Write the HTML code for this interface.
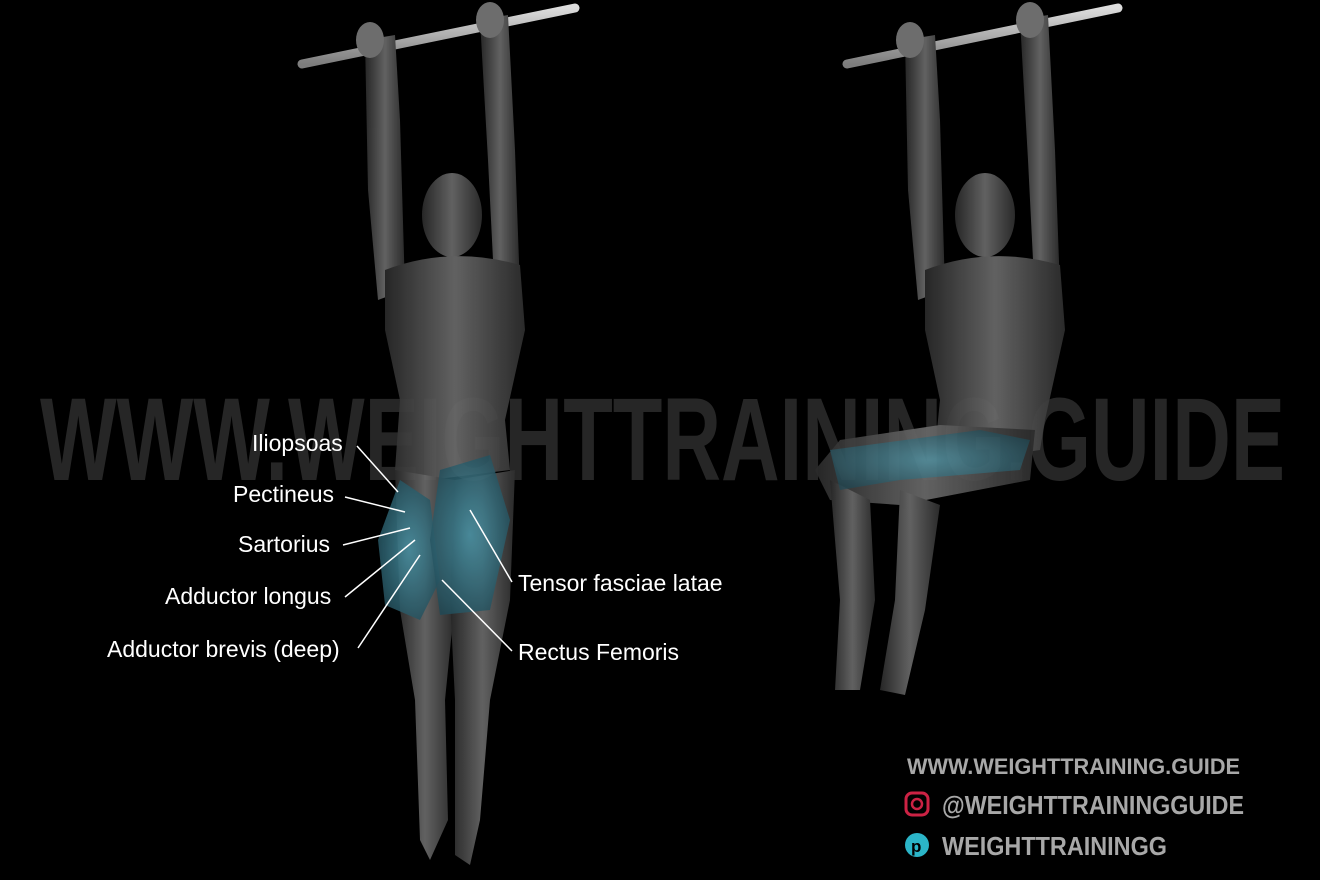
<!DOCTYPE html>
<html><head><meta charset="utf-8"><style>
html,body{margin:0;padding:0;background:#000;}
svg{display:block}
text{font-family:"Liberation Sans",sans-serif}
</style></head><body>
<svg width="1320" height="880" viewBox="0 0 1320 880">
<defs>
<linearGradient id="body" x1="0" x2="1" y1="0" y2="0">
<stop offset="0" stop-color="#2a2a2a"/><stop offset="0.5" stop-color="#6a6a6a"/><stop offset="1" stop-color="#2e2e2e"/>
</linearGradient>
<linearGradient id="bar" x1="0" x2="0" y1="0" y2="1">
<stop offset="0" stop-color="#f0f0f0"/><stop offset="1" stop-color="#888"/>
</linearGradient>
<radialGradient id="musc" cx="0.5" cy="0.5" r="0.6">
<stop offset="0" stop-color="#4fa0b4"/><stop offset="1" stop-color="#234f5c"/>
</radialGradient>
</defs>
<rect width="1320" height="880" fill="#000"/>
<text x="40" y="480" font-size="118" font-weight="bold" fill="#262626" textLength="1245" lengthAdjust="spacingAndGlyphs">WWW.WEIGHTTRAINING.GUIDE</text>

<g opacity="0.92">
<line x1="302" y1="64" x2="575" y2="8" stroke="url(#bar)" stroke-width="9" stroke-linecap="round"/>
<path d="M365,40 L395,35 L400,120 L405,290 L378,300 L368,190 Z" fill="url(#body)"/>
<path d="M480,20 L508,15 L515,150 L520,290 L495,300 L488,160 Z" fill="url(#body)"/>
<ellipse cx="452" cy="215" rx="30" ry="42" fill="url(#body)"/>
<path d="M385,270 Q450,245 520,265 L525,330 L505,420 L510,470 L430,480 L395,470 L400,400 L385,330 Z" fill="url(#body)"/>
<path d="M395,470 L455,480 L455,600 L445,700 L448,820 L430,860 L420,840 L415,700 L400,610 Z" fill="url(#body)"/>
<path d="M455,480 L515,470 L510,600 L490,700 L480,820 L470,865 L455,855 L455,700 L450,600 Z" fill="url(#body)"/>
<path d="M400,480 L430,500 L440,580 L420,620 L385,605 L378,540 Z" fill="url(#musc)" opacity="0.85"/>
<path d="M440,470 L490,455 L510,520 L490,610 L440,615 L430,540 Z" fill="url(#musc)" opacity="0.85"/>
<ellipse cx="370" cy="40" rx="14" ry="18" fill="#777"/>
<ellipse cx="490" cy="20" rx="14" ry="18" fill="#777"/>
</g>

<g opacity="0.92">
<line x1="847" y1="64" x2="1118" y2="8" stroke="url(#bar)" stroke-width="9" stroke-linecap="round"/>
<path d="M905,40 L935,35 L940,120 L945,290 L918,300 L908,190 Z" fill="url(#body)"/>
<path d="M1020,20 L1048,15 L1055,150 L1060,290 L1035,300 L1028,160 Z" fill="url(#body)"/>
<ellipse cx="985" cy="215" rx="30" ry="42" fill="url(#body)"/>
<path d="M925,270 Q990,245 1060,265 L1065,330 L1045,420 L1040,450 L970,460 L935,450 L940,400 L925,330 Z" fill="url(#body)"/>
<path d="M1035,430 L1030,480 L900,505 L830,500 L815,470 L840,440 L940,425 Z" fill="url(#body)"/>
<path d="M830,480 L870,500 L875,600 L860,690 L835,690 L840,600 Z" fill="url(#body)"/>
<path d="M900,490 L940,505 L925,610 L905,695 L880,690 L895,600 Z" fill="url(#body)"/>
<path d="M830,450 L980,430 L1030,440 L1020,470 L900,480 L840,490 Z" fill="url(#musc)" opacity="0.7"/>
<ellipse cx="910" cy="40" rx="14" ry="18" fill="#777"/>
<ellipse cx="1030" cy="20" rx="14" ry="18" fill="#777"/>
</g>

<g fill="#fff" font-size="23" stroke="none">
<text x="252" y="451">Iliopsoas</text>
<text x="233" y="502">Pectineus</text>
<text x="238" y="552">Sartorius</text>
<text x="165" y="604">Adductor longus</text>
<text x="107" y="657">Adductor brevis (deep)</text>
<text x="518" y="591">Tensor fasciae latae</text>
<text x="518" y="660">Rectus Femoris</text>
</g>
<g stroke="#fff" stroke-width="1.5">
<line x1="357" y1="446" x2="398" y2="492"/>
<line x1="345" y1="497" x2="405" y2="512"/>
<line x1="343" y1="545" x2="410" y2="528"/>
<line x1="345" y1="597" x2="415" y2="540"/>
<line x1="358" y1="648" x2="420" y2="555"/>
<line x1="512" y1="582" x2="470" y2="510"/>
<line x1="512" y1="651" x2="442" y2="580"/>
</g>

<g fill="#a8a8a8" font-weight="bold">
<text x="907" y="774" font-size="22" textLength="333" lengthAdjust="spacingAndGlyphs">WWW.WEIGHTTRAINING.GUIDE</text>
<rect x="906" y="793" width="22" height="22" rx="6" fill="none" stroke="#c24" stroke-width="3"/>
<circle cx="917" cy="804" r="5" fill="none" stroke="#c24" stroke-width="2.5"/>
<text x="942" y="814" font-size="26" textLength="302" lengthAdjust="spacingAndGlyphs">@WEIGHTTRAININGGUIDE</text>
<circle cx="917" cy="845" r="12" fill="#2bb5c8"/>
<text x="911" y="852" font-size="17" fill="#000">p</text>
<text x="942" y="855" font-size="26" textLength="225" lengthAdjust="spacingAndGlyphs">WEIGHTTRAININGG</text>
</g>
</svg>
</body></html>
